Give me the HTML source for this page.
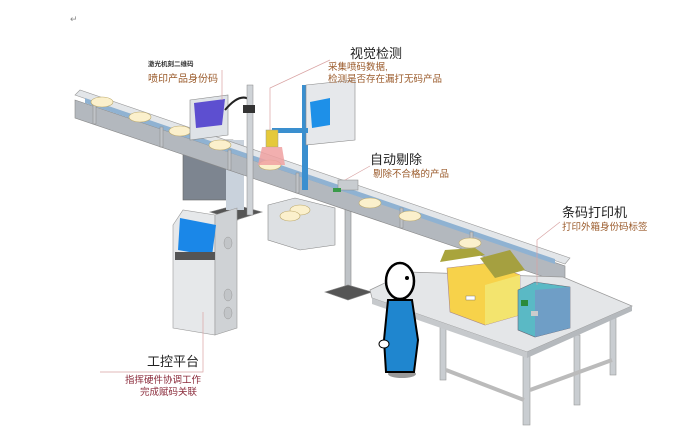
<!DOCTYPE html>
<html><head><meta charset="utf-8"><style>
html,body{margin:0;padding:0;background:#fff;}
svg{display:block;}
text{font-family:"Liberation Sans","Noto Sans CJK SC",sans-serif;}
</style></head><body>
<svg width="694" height="429" viewBox="0 0 694 429" xmlns="http://www.w3.org/2000/svg">
<rect width="694" height="429" fill="#fff"/>
<text x="70" y="22" font-size="9" fill="#888">↵</text>

<!-- conveyor legs -->
<g fill="#bfc3c7" stroke="#888" stroke-width="0.6">
<rect x="232" y="160" width="6" height="60"/>
<rect x="345" y="205" width="6" height="85"/>
<polygon points="325,292 348,285 372,292 348,300" fill="#555"/>
<polygon points="210,212 236,205 262,212 236,220" fill="#555"/>
</g>
<rect x="183" y="140" width="50" height="60" fill="#7d8590" stroke="#666" stroke-width="0.6"/>
<rect x="226" y="140" width="18" height="70" fill="#c9d2dc"/>

<!-- conveyor -->
<polygon points="75,95 80,90 570,258 565,264" fill="#e3e6e9" stroke="#999" stroke-width="0.6"/>
<polygon points="75,100 565,266 565,284 75,118" fill="#b3b8be" stroke="#888" stroke-width="0.6"/>
<polygon points="85,98 555,259 555,264 85,103" fill="#8fb2d2"/>
<g fill="#bfc3c7" stroke="#888" stroke-width="0.5">
<rect x="93" y="104" width="3" height="20"/>
<rect x="160" y="127" width="3" height="20"/>
<rect x="228" y="150" width="3" height="20"/>
<rect x="296" y="173" width="3" height="20"/>
<rect x="400" y="208" width="3" height="20"/>
<rect x="470" y="232" width="3" height="20"/>
</g>
<g fill="#fbf0cc" stroke="#bca86a" stroke-width="0.6">
<ellipse cx="102" cy="102" rx="11" ry="5"/>
<ellipse cx="140" cy="117" rx="11" ry="5"/>
<ellipse cx="180" cy="131" rx="11" ry="5"/>
<ellipse cx="220" cy="145" rx="11" ry="5"/>
<ellipse cx="270" cy="165" rx="11" ry="5"/>
<ellipse cx="370" cy="203" rx="11" ry="5"/>
<ellipse cx="410" cy="216" rx="11" ry="5"/>
<ellipse cx="470" cy="243" rx="11" ry="5"/>
</g>

<!-- laser printer -->
<polygon points="190,100 228,95 228,135 190,140" fill="#dfe3e7" stroke="#888" stroke-width="0.6"/>
<polygon points="194,103 225,99 222,125 196,128" fill="#5d4fd0"/>
<path d="M225,110 Q240,92 250,100" stroke="#222" stroke-width="2" fill="none"/>
<rect x="247" y="85" width="6" height="130" fill="#cfd3d7" stroke="#888" stroke-width="0.5"/>
<rect x="243" y="105" width="12" height="8" fill="#333"/>

<!-- vision -->
<rect x="302" y="85" width="6" height="105" fill="#3a8fcf"/>
<polygon points="306,85 355,80 355,140 306,145" fill="#e6e8eb" stroke="#888" stroke-width="0.6"/>
<polygon points="310,102 330,98 330,125 312,128" fill="#1e90e8"/>
<rect x="272" y="128" width="36" height="5" fill="#3a8fcf"/>
<rect x="266" y="130" width="12" height="17" fill="#e5c93a" stroke="#998" stroke-width="0.5"/>
<polygon points="262,147 282,147 285,165 258,165" fill="#f0a1a1" opacity="0.85"/>

<!-- reject -->
<rect x="338" y="180" width="20" height="10" fill="#c8ccd0" stroke="#888" stroke-width="0.5"/>
<rect x="333" y="188" width="8" height="4" fill="#3a9a4a"/>
<polygon points="268,205 295,198 335,208 335,245 300,250 268,240" fill="#dde0e3" stroke="#888" stroke-width="0.6"/>
<ellipse cx="300" cy="210" rx="10" ry="5" fill="#fbf0cc" stroke="#bca86a" stroke-width="0.6"/>
<ellipse cx="290" cy="216" rx="10" ry="5" fill="#fbf0cc" stroke="#bca86a" stroke-width="0.6"/>

<!-- kiosk -->
<polygon points="173,225 183,210 215,215 215,335 173,328" fill="#e6e8ea" stroke="#999" stroke-width="0.6"/>
<polygon points="215,215 237,208 237,328 215,335" fill="#cfd2d5" stroke="#999" stroke-width="0.6"/>
<polygon points="180,218 216,225 212,256 178,250" fill="#1a87e8"/>
<rect x="175" y="252" width="40" height="8" fill="#555"/>
<ellipse cx="228" cy="243" rx="4" ry="6" fill="#c2c5c8" stroke="#999" stroke-width="0.5"/>
<ellipse cx="228" cy="295" rx="4" ry="6" fill="#c2c5c8" stroke="#999" stroke-width="0.5"/>
<ellipse cx="228" cy="313" rx="4" ry="6" fill="#c2c5c8" stroke="#999" stroke-width="0.5"/>

<!-- table -->
<g stroke="#999" stroke-width="0.6" fill="#c9cdd1">
<rect x="440" y="320" width="6" height="60"/>
<rect x="523" y="350" width="7" height="75"/>
<rect x="574" y="335" width="6" height="70"/>
<rect x="610" y="315" width="6" height="60"/>
<line x1="446" y1="370" x2="524" y2="400" stroke="#bbb" stroke-width="4"/>
<line x1="530" y1="390" x2="612" y2="360" stroke="#bbb" stroke-width="4"/>
</g>
<polygon points="370,290 408,272 563,277 632,306 527,352 372,298" fill="#e4e6e8" stroke="#999" stroke-width="0.7"/>
<polygon points="372,298 527,352 527,358 372,304" fill="#c6c9cc"/>
<polygon points="527,352 632,306 632,311 527,358" fill="#b5b9bd"/>

<!-- box -->
<polygon points="447,268 490,263 520,275 520,315 485,325 450,312" fill="#f7d24a" stroke="#a88" stroke-width="0.6"/>
<polygon points="485,285 520,275 520,315 485,325" fill="#f3e46e"/>
<polygon points="440,262 485,255 475,248 445,250" fill="#a9a43c"/>
<polygon points="480,258 510,250 525,270 495,278" fill="#a5a040"/>
<rect x="466" y="296" width="9" height="4" fill="#fff" stroke="#666" stroke-width="0.4"/>
<polygon points="518,290 535,282 570,287 570,328 535,337 518,330" fill="#5ab9c5" stroke="#667" stroke-width="0.6"/>
<polygon points="535,290 570,287 570,328 535,337" fill="#6f9ec6"/>
<rect x="521" y="300" width="7" height="6" fill="#2b8a3a"/>
<rect x="531" y="311" width="7" height="5" fill="#ccc"/>

<!-- person -->
<ellipse cx="402" cy="374" rx="14" ry="4" fill="#999"/>
<ellipse cx="400" cy="281" rx="14" ry="18" fill="#fff" stroke="#000" stroke-width="2.5"/>
<circle cx="407" cy="278" r="2" fill="#000"/>
<path d="M388,300 L412,300 L418,340 L414,372 L386,372 L384,340 Z" fill="#1f86cf" stroke="#000" stroke-width="2"/>
<ellipse cx="384" cy="344" rx="5" ry="4" fill="#fff" stroke="#000" stroke-width="1"/>

<!-- callout lines -->
<g stroke="#d9a3a3" stroke-width="0.7" fill="none">
<polyline points="222,70 222,100"/>
<polyline points="330,60 270,88 270,130"/>
<polyline points="370,166 345,180"/>
<polyline points="560,222 537,240 537,285"/>
<polyline points="203,312 203,372 100,372"/>
</g>

<text x="148" y="66" font-size="6.5" fill="#333" font-weight="bold">激光机刻二维码</text>
<text x="148" y="82" font-size="10" fill="#9a5a2a">喷印产品身份码</text>
<text x="350" y="58" font-size="13" fill="#222">视觉检测</text>
<text x="328" y="70" font-size="9.5" fill="#9a5a2a">采集喷码数据,</text>
<text x="328" y="82" font-size="9.5" fill="#9a5a2a">检测是否存在漏打无码产品</text>
<text x="370" y="164" font-size="13" fill="#222">自动剔除</text>
<text x="373" y="177" font-size="9.5" fill="#9a5a2a">剔除不合格的产品</text>
<text x="562" y="217" font-size="13" fill="#222">条码打印机</text>
<text x="562" y="230" font-size="9.5" fill="#9a5a2a">打印外箱身份码标签</text>
<text x="147" y="366" font-size="13" fill="#222">工控平台</text>
<text x="125" y="383" font-size="9.5" fill="#8a2a3a">指挥硬件协调工作</text>
<text x="140" y="395" font-size="9.5" fill="#8a2a3a">完成赋码关联</text>
</svg>
</body></html>
